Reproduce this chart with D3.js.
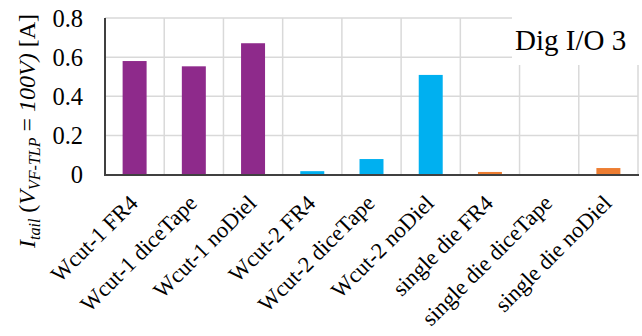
<!DOCTYPE html>
<html>
<head>
<meta charset="utf-8">
<script src="https://cdn.jsdelivr.net/npm/d3@7"></script>
<style>
  html, body { margin: 0; padding: 0; background: #fff; }
  svg { display: block; font-family: "Liberation Serif", "Times New Roman", serif; }
</style>
</head>
<body>
<svg id="chart" width="642" height="336"></svg>
<script>
// Tail current at V_VF-TLP = 100 V per sample configuration
const categories = [
  "Wcut-1 FR4", "Wcut-1 diceTape", "Wcut-1 noDiel",
  "Wcut-2 FR4", "Wcut-2 diceTape", "Wcut-2 noDiel",
  "single die FR4", "single die diceTape", "single die noDiel"
];
const values = [0.580, 0.553, 0.671, 0.017, 0.079, 0.509, 0.013, 0.0, 0.033];
const groups = ["Wcut-1", "Wcut-1", "Wcut-1", "Wcut-2", "Wcut-2", "Wcut-2", "single", "single", "single"];
const groupNames = ["Wcut-1", "Wcut-2", "single"];
const groupColors = ["#8E2A8B", "#00B0F0", "#ED7D31"];
const yTicks = [0, 0.2, 0.4, 0.6, 0.8];
const yTickLabels = ["0", "0.2", "0.4", "0.6", "0.8"];
const title = "Dig I/O 3";

const svg = d3.select("#chart");
const plotLeft = 105, plotRight = 638, plotTop = 18, plotBottom = 174.5;

const x = d3.scaleBand().domain(categories).range([plotLeft, plotRight]).padding(0);
const y = d3.scaleLinear().domain([0, 0.8]).range([plotBottom, plotTop]);
const color = d3.scaleOrdinal().domain(groupNames).range(groupColors);

const gridColor = "#D9D9D9";
const axisColor = "#404040";

// horizontal gridlines
svg.append("g").selectAll("line").data(yTicks.slice(1)).join("line")
  .attr("x1", plotLeft).attr("x2", plotRight)
  .attr("y1", d => y(d)).attr("y2", d => y(d))
  .attr("stroke", gridColor).attr("stroke-width", 1.5);

// vertical gridlines at category boundaries
const edges = categories.slice(1).map(c => x(c)).concat([plotRight]);
svg.append("g").selectAll("line").data(edges).join("line")
  .attr("x1", d => d).attr("x2", d => d)
  .attr("y1", plotTop).attr("y2", plotBottom)
  .attr("stroke", gridColor).attr("stroke-width", 1.5);

// bars
const barFrac = 0.405;
const bw = x.bandwidth() * barFrac;
svg.append("g").selectAll("rect").data(categories).join("rect")
  .attr("x", d => x(d) + (x.bandwidth() - bw) / 2)
  .attr("width", bw)
  .attr("y", (d, i) => y(values[i]))
  .attr("height", (d, i) => plotBottom - y(values[i]))
  .attr("fill", (d, i) => color(groups[i]));

// axis lines
svg.append("line").attr("x1", plotLeft).attr("x2", plotLeft).attr("y1", plotTop).attr("y2", plotBottom + 1)
  .attr("stroke", axisColor).attr("stroke-width", 2);
svg.append("line").attr("x1", plotLeft - 1).attr("x2", plotRight + 1)
  .attr("y1", plotBottom + 0.5).attr("y2", plotBottom + 0.5)
  .attr("stroke", axisColor).attr("stroke-width", 2);

// y tick labels
svg.append("g").selectAll("text").data(yTicks).join("text")
  .attr("x", 83).attr("y", d => y(d))
  .attr("dy", "0.35em")
  .attr("text-anchor", "end")
  .attr("font-size", 24.5)
  .attr("fill", "#000")
  .text((d, i) => yTickLabels[i]);

// category labels, rotated
svg.append("g").selectAll("text").data(categories).join("text")
  .attr("transform", d => `translate(${x(d) + x.bandwidth() / 2 + 4.5},${plotBottom + 30}) rotate(-45)`)
  .attr("text-anchor", "end")
  .attr("font-size", 22.5)
  .attr("fill", "#000")
  .text(d => d);

// title box in the upper right corner
svg.append("rect").attr("x", 512).attr("y", 17).attr("width", 130).attr("height", 48).attr("fill", "#fff");
svg.append("text").attr("x", 515).attr("y", 50)
  .attr("font-size", 29).attr("fill", "#000").text(title);

// y axis title with subscripts
const yl = svg.append("text")
  .attr("transform", "translate(35,131) rotate(-90)")
  .attr("text-anchor", "middle")
  .attr("font-size", 24)
  .attr("fill", "#000");
yl.append("tspan").attr("font-style", "italic").text("I");
yl.append("tspan").attr("font-style", "italic").attr("font-size", 16).attr("dy", 5).text("tail");
yl.append("tspan").attr("dy", -5).text(" (");
yl.append("tspan").attr("font-style", "italic").text("V");
yl.append("tspan").attr("font-style", "italic").attr("font-size", 16).attr("dy", 5).text("VF-TLP");
yl.append("tspan").attr("dy", -5).text(" = ");
yl.append("tspan").attr("font-style", "italic").text("100V)");
yl.append("tspan").text(" [A]");
</script>
</body>
</html>
